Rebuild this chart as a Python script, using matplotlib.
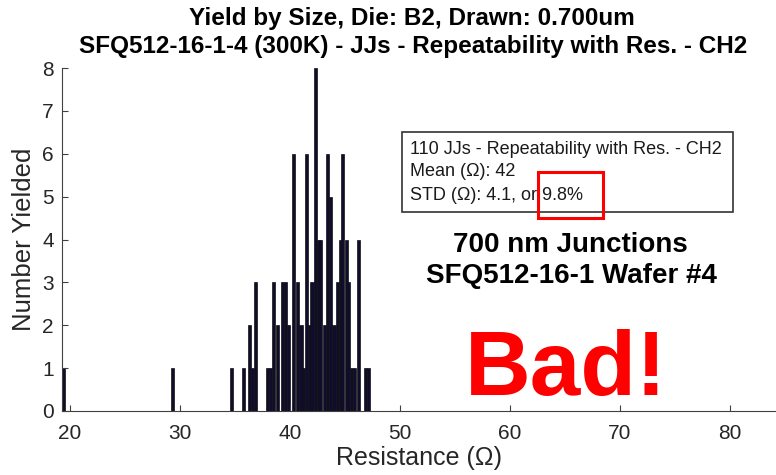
import matplotlib.pyplot as plt
from matplotlib.patches import Rectangle

# bin centres (Ohm) and number of junctions in each bin
centres = [19.4, 29.3, 34.66, 35.79, 36.30, 36.57, 36.88, 37.94, 38.21, 38.48,
           38.85, 39.3, 39.6, 39.9, 40.3, 40.7, 41.0, 41.2, 41.5, 41.75,
           42.0, 42.3, 42.55, 42.8, 43.1, 43.4, 43.7, 44.0, 44.3, 44.55,
           44.8, 45.1, 45.35, 45.6, 45.85, 46.2, 46.85, 47.15]
counts = [1, 1, 1, 1, 2, 1, 3, 1, 1, 3,
          2, 3, 3, 2, 6, 3, 2, 1, 6, 2,
          3, 8, 4, 4, 2, 6, 5, 2, 3, 4,
          6, 4, 3, 1, 1, 4, 1, 1]
xticks = [20, 30, 40, 50, 60, 70, 80]
yticks = [0, 1, 2, 3, 4, 5, 6, 7, 8]
box_lines = ['110 JJs - Repeatability with Res. - CH2',
             'Mean (Ω): 42',
             'STD (Ω): 4.1, or 9.8%']

plt.rcParams['font.family'] = ['Liberation Sans', 'DejaVu Sans']

W, H = 776, 475
fig = plt.figure(figsize=(W / 100, H / 100), dpi=100)
ax = fig.add_axes([62 / W, (H - 411) / H, 1 - 62 / W, (411 - 68) / H])

ax.bar(centres, counts, width=0.28, color='#0f0d2b', edgecolor='#111111',
       linewidth=0.5)

ax.set_xlim(19.27, 20 + (W - 70) / 11)
ax.set_ylim(0, 8)
ax.set_xticks(xticks)
ax.set_yticks(yticks)
ax.tick_params(direction='in', length=4, width=0.8, colors='#404040',
               labelcolor='#262626', labelsize=15)
ax.tick_params(axis='x', pad=9.5)
ax.tick_params(axis='y', pad=6)
ax.spines['top'].set_visible(False)
ax.spines['right'].set_visible(False)
for s in ('left', 'bottom'):
    ax.spines[s].set_color('#404040')
ax.set_xlabel('Resistance (Ω)', fontsize=18, color='#262626', labelpad=2)
ax.set_ylabel('Number Yielded', fontsize=18.5, color='#262626', labelpad=4)

fig.text(412 / W, 1 - 18 / H, 'Yield by Size, Die: B2, Drawn: 0.700um',
         ha='center', va='center', fontsize=17.5, fontweight='bold')
fig.text(413 / W, 1 - 47 / H,
         'SFQ512-16-1-4 (300K) - JJs - Repeatability with Res. - CH2',
         ha='center', va='center', fontsize=17.5, fontweight='bold')

# stats box
fig.patches.append(Rectangle((402 / W, 1 - 212 / H), 331 / W, 80 / H,
                             transform=fig.transFigure, fc='white',
                             ec='#333333', lw=1.2))
for txt, yy in zip(box_lines, [150, 172, 195]):
    fig.text(410 / W, 1 - yy / H, txt, ha='left', va='center',
             fontsize=13, color='#1a1a1a')
# red highlight around the percentage
fig.patches.append(Rectangle((538 / W, 1 - 218 / H), 65 / W, 46 / H,
                             transform=fig.transFigure, fill=False,
                             ec='#ff0000', lw=2.2))

fig.text(570 / W, 1 - 245 / H, '700 nm Junctions', ha='center', va='center',
         fontsize=20, fontweight='bold')
fig.text(571 / W, 1 - 276 / H, 'SFQ512-16-1 Wafer #4', ha='center',
         va='center', fontsize=20, fontweight='bold')
fig.text(566 / W, 1 - 372 / H, 'Bad!', ha='center', va='center',
         fontsize=65.5, fontweight='bold', color='#ff0000')

fig.savefig('out.png', dpi=100)
